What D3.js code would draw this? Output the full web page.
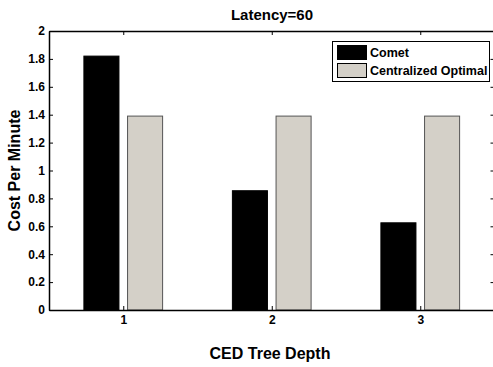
<!DOCTYPE html>
<meta charset="utf-8">
<script src="https://cdn.jsdelivr.net/npm/d3@7"></script>
<style>
body {margin: 0; background: #fff;}
svg text {font-family: "Liberation Sans", Arial, sans-serif; font-weight: bold; fill: #000;}
</style>
<div id="vis"></div>
<script>

// Chart data
var depths = [1, 2, 3];
var seriesNames = ["Comet", "Centralized Optimal"];
var comet = [1.82, 0.855, 0.625];
var centralized = [1.39, 1.39, 1.39];
var yTicks = [0, 0.2, 0.4, 0.6, 0.8, 1, 1.2, 1.4, 1.6, 1.8, 2];

var w = 493, h = 367;
var margin = {top: 31, right: -1.5, bottom: 57, left: 49};
var width = w - margin.left - margin.right,
    height = h - margin.top - margin.bottom;

var svg = d3.select("#vis").append("svg")
    .attr("width", w)
    .attr("height", h);

var g = svg.append("g")
    .attr("transform", "translate(" + margin.left + "," + margin.top + ")");

var x = d3.scaleLinear().domain([0.5, 3.5]).range([0, width]);
var y = d3.scaleLinear().domain([0, 2]).range([height, 0]);

var barW = 0.236, off = 0.147;

// bars
g.selectAll(".comet")
  .data(comet)
  .enter().append("rect")
    .attr("x", function(d, i) { return x(depths[i] - off - barW / 2); })
    .attr("y", function(d) { return y(d); })
    .attr("width", x(barW) - x(0))
    .attr("height", function(d) { return height - y(d); })
    .attr("fill", "#000")
    .attr("stroke", "#000");

g.selectAll(".central")
  .data(centralized)
  .enter().append("rect")
    .attr("x", function(d, i) { return x(depths[i] + off - barW / 2); })
    .attr("y", function(d) { return y(d); })
    .attr("width", x(barW) - x(0))
    .attr("height", function(d) { return height - y(d); })
    .attr("fill", "#d4d0c8")
    .attr("stroke", "#555");

// axes (MATLAB style, ticks inward)
var ax = g.append("g").attr("transform", "translate(0," + height + ")")
    .call(d3.axisBottom(x).tickValues(depths).tickFormat(d3.format("d")).tickSizeInner(-4).tickSizeOuter(0).tickPadding(5));
var ay = g.append("g")
    .call(d3.axisLeft(y).tickValues(yTicks).tickFormat(function(d) { return d3.format("")(d); }).tickSizeInner(-4).tickSizeOuter(0).tickPadding(4));
var axTop = g.append("g")
    .call(d3.axisTop(x).tickValues(depths).tickFormat("").tickSizeInner(-4).tickSizeOuter(0));
var ayR = g.append("g").attr("transform", "translate(" + width + ",0)")
    .call(d3.axisRight(y).tickValues(yTicks).tickFormat("").tickSizeInner(-4).tickSizeOuter(0));

[ax, ay, axTop, ayR].forEach(function(a) {
  a.selectAll("path").attr("stroke", "#000").attr("stroke-width", 1.5);
  a.selectAll("line").attr("stroke", "#000");
  a.selectAll("text").style("font-size", "12px").style("font-weight", "bold");
});

// title & labels
svg.append("text")
    .attr("x", 272)
    .attr("y", 20)
    .attr("text-anchor", "middle")
    .style("font-size", "15px")
    .text("Latency=60");

svg.append("text")
    .attr("x", 270)
    .attr("y", 359)
    .attr("text-anchor", "middle")
    .style("font-size", "16px")
    .text("CED Tree Depth");

svg.append("text")
    .attr("transform", "translate(20," + (margin.top + height / 2) + ") rotate(-90)")
    .attr("text-anchor", "middle")
    .style("font-size", "16px")
    .text("Cost Per Minute");

// legend
var lg = svg.append("g").attr("transform", "translate(332.5,41.5)");
lg.append("rect")
    .attr("width", 157).attr("height", 40)
    .attr("fill", "#fff").attr("stroke", "#000");
var colors = ["#000", "#d4d0c8"];
seriesNames.forEach(function(name, i) {
  lg.append("rect")
      .attr("x", 5).attr("y", 4 + i * 18)
      .attr("width", 29).attr("height", 14)
      .attr("fill", colors[i]).attr("stroke", "#000");
  lg.append("text")
      .attr("x", 37.5).attr("y", 15.5 + i * 18)
      .style("font-size", "12.5px")
      .text(name);
});

</script>
